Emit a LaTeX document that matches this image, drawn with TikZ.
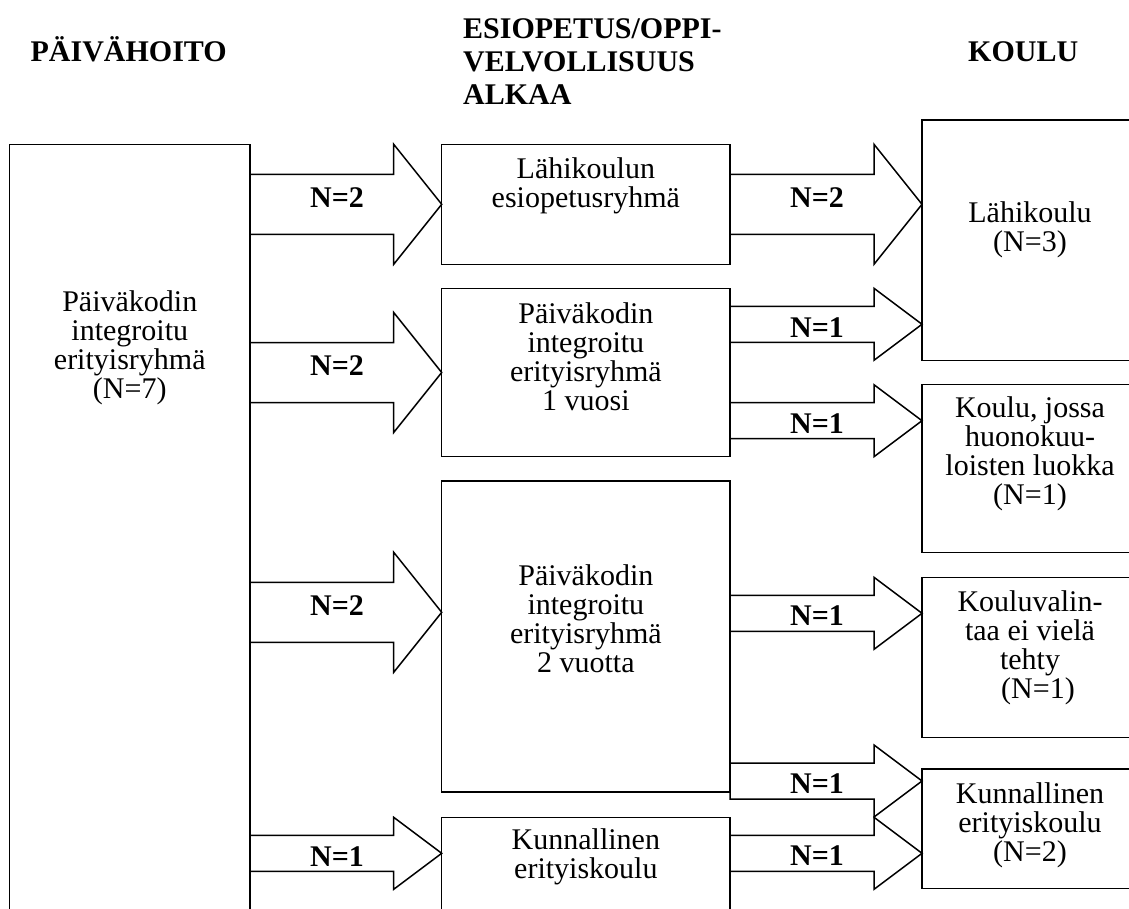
\documentclass[tikz,border=0pt]{standalone}
\usepackage{fontspec}
\setmainfont{Liberation Serif}
\usetikzlibrary{calc}

\newcommand{\fatarrow}[6]{%
  \draw[flow] (#1.east |- 0,{#3+#4}) -- (#1.east |- 0,{#3-#4})
    -- ($(#2.west |- 0,{#3-#4})+(-48,0)$) -- ++(0,-#4) -- (#2.west |- 0,#3)
    -- ++(-48,{2*#4}) -- ++(0,-#4) -- cycle;
  \node[nlabel, anchor=base] (#1-#2) at ($(#1.east |- 0,#6)+(87,0)$) {#5};
}

\begin{document}
\begin{tikzpicture}[x=1pt, y=-1pt,
    box/.style={draw, line width=1.5pt, rectangle, anchor=north west, inner sep=0pt, outer sep=0pt},
    txt/.style={align=center, anchor=base, inner sep=0pt, font=\fontsize{30}{29}\selectfont},
    phase/.style={align=left, anchor=base west, inner sep=0pt, font=\fontsize{30}{33.3}\selectfont\bfseries},
    nlabel/.style={inner sep=0pt, font=\fontsize{30}{29}\selectfont\bfseries},
    flow/.style={line width=1.5pt, line join=miter}]
    \useasboundingbox (0,0) rectangle (1129,909);
    \clip (0,0) rectangle (1129,909);

    \node[phase] (hoito) at (30.4,61.7) {PÄIVÄHOITO};
    \node[phase] (esi) at (463,105) {ESIOPETUS/OPPI-\\VELVOLLISUUS\\ALKAA};
    \node[phase] (koulu) at (968,61.7) {KOULU};

    \node[box, minimum width=240.5pt, minimum height=786pt] (pk) at (9.5,144.3) {};
    \node[box, minimum width=288.3pt, minimum height=120pt] (esr) at (441.7,144.3) {};
    \node[box, minimum width=288.3pt, minimum height=168pt] (pk1) at (441.7,288.5) {};
    \node[box, minimum width=288.3pt, minimum height=311pt] (pk2) at (441.7,481) {};
    \node[box, minimum width=288.3pt, minimum height=113pt] (ek) at (441.7,817.3) {};
    \node[box, minimum width=216pt, minimum height=240.5pt] (lk) at (922,120) {};
    \node[box, minimum width=216pt, minimum height=168pt] (hk) at (922,384.5) {};
    \node[box, minimum width=216pt, minimum height=160pt] (kv) at (922,577.3) {};
    \node[box, minimum width=216pt, minimum height=119.3pt] (ke) at (922,769) {};

    \node[txt] (pktxt) at (pk.north |- 0,398) {Päiväkodin\\integroitu\\erityisryhmä\\(N=7)};
    \node[txt] (esrtxt) at (esr.north |- 0,208) {Lähikoulun\\esiopetusryhmä};
    \node[txt] (pk1txt) at (pk1.north |- 0,410) {Päiväkodin\\integroitu\\erityisryhmä\\1 vuosi};
    \node[txt] (pk2txt) at (pk2.north |- 0,672) {Päiväkodin\\integroitu\\erityisryhmä\\2 vuotta};
    \node[txt] (ektxt) at (ek.north |- 0,878) {Kunnallinen\\erityiskoulu};
    \node[txt] (lktxt) at (1030,252) {Lähikoulu\\(N=3)};
    \node[txt] (hktxt) at (1030,504.5) {Koulu, jossa\\huonokuu-\\loisten luokka\\(N=1)};
    \node[txt] (kvtxt) at (1030,698) {Kouluvalin-\\taa ei vielä\\tehty\\\hspace*{16pt}(N=1)};
    \node[txt] (ketxt) at (1030,861.5) {Kunnallinen\\erityiskoulu\\(N=2)};

    \fatarrow{pk}{esr}{204.3}{30}{N=2}{207.3}
    \fatarrow{pk}{pk1}{372.5}{30}{N=2}{375}
    \fatarrow{pk}{pk2}{612.3}{30}{N=2}{615}
    \fatarrow{pk}{ek}{853.3}{18}{N=1}{866}
    \fatarrow{esr}{lk}{204.3}{30}{N=2}{207.3}
    \fatarrow{pk1}{lk}{324.3}{18}{N=1}{337.3}
    \fatarrow{pk1}{hk}{420.7}{18}{N=1}{433.3}
    \fatarrow{pk2}{kv}{613.3}{18}{N=1}{625}
    \fatarrow{pk2}{ke}{781}{18}{N=1}{793.3}
    \fatarrow{ek}{ke}{853.3}{18}{N=1}{865.7}
\end{tikzpicture}
\end{document}
